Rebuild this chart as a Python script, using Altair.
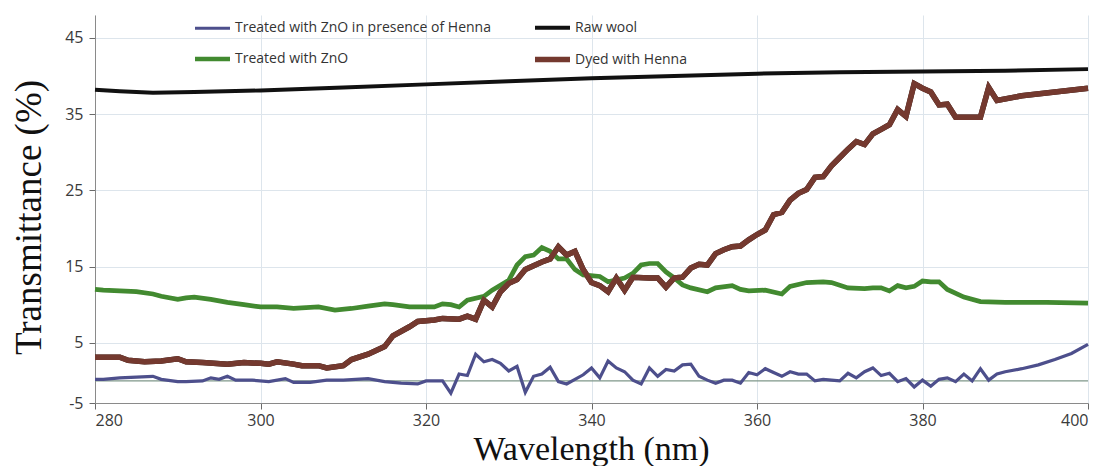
import altair as alt
import pandas as pd

series_order = ["Treated with ZnO in presence of Henna", "Raw wool",
                "Treated with ZnO", "Dyed with Henna"]
series_colors = ["#4d4f8c", "#111111", "#428a30", "#74392f"]
series_widths = [3.2, 5.5, 2.6, 3.2]

blue_nm = [280, 281, 283, 285, 287, 288, 290, 291, 293, 294, 295, 296, 297, 299, 301, 303, 304, 306,
           308, 310, 313, 315, 317, 319, 320, 322, 323, 324, 325, 326, 327, 328, 329, 330, 331, 332,
           333, 334, 335, 336, 337, 338, 339, 340, 341, 342, 343, 344, 345, 346, 347, 348, 349, 350,
           351, 352, 353, 354, 355, 356, 357, 358, 359, 360, 361, 362, 363, 364, 365, 366, 367, 368,
           369, 370, 371, 372, 373, 374, 375, 376, 377, 378, 379, 380, 381, 382, 383, 384, 385, 386,
           387, 388, 389, 390, 392, 394, 396, 398, 400]
blue_val = [0.2, 0.2, 0.4, 0.5, 0.6, 0.2, -0.1, -0.1, 0.0, 0.4, 0.2, 0.6, 0.1, 0.1, -0.1, 0.3, -0.2, -0.2,
            0.1, 0.1, 0.3, -0.1, -0.3, -0.4, 0.0, 0.0, -1.6, 0.9, 0.7, 3.5, 2.5, 2.8, 2.3, 1.3, 1.9, -1.5,
            0.6, 0.9, 1.8, -0.1, -0.4, 0.2, 0.8, 1.7, 0.4, 2.6, 1.7, 1.2, 0.1, -0.4, 1.7, 0.6, 1.5, 1.3,
            2.1, 2.2, 0.6, 0.1, -0.3, 0.1, 0.1, -0.3, 1.1, 0.8, 1.6, 1.1, 0.6, 1.2, 0.9, 0.9, 0.0, 0.2,
            0.1, 0.0, 1.0, 0.4, 1.2, 1.7, 0.7, 1.0, -0.1, 0.3, -0.8, 0.1, -0.7, 0.2, 0.4, -0.1, 0.9, 0.0,
            1.6, 0.1, 0.9, 1.2, 1.6, 2.1, 2.8, 3.6, 4.8]

green_nm = [280, 281, 283, 285, 287, 288, 290, 291, 292, 294, 296, 298, 300, 302, 304, 307, 309, 311,
            313, 315, 316, 318, 321, 322, 323, 324, 325, 327, 328, 330, 331, 332, 333, 334, 335, 336,
            337, 338, 339, 341, 342, 344, 345, 346, 347, 348, 349, 350, 351, 352, 354, 355, 357, 358,
            359, 361, 363, 364, 366, 368, 369, 371, 373, 374, 375, 376, 377, 378, 379, 380, 381, 382,
            383, 385, 387, 390, 395, 400]
green_val = [12.0, 11.9, 11.8, 11.7, 11.4, 11.1, 10.7, 10.9, 11.0, 10.7, 10.3, 10.0, 9.7, 9.7, 9.5, 9.7,
             9.3, 9.5, 9.8, 10.1, 10.0, 9.7, 9.7, 10.1, 10.0, 9.7, 10.6, 11.1, 11.9, 13.2, 15.2, 16.3,
             16.5, 17.5, 17.0, 16.0, 16.0, 14.6, 13.9, 13.7, 13.0, 13.5, 14.1, 15.2, 15.4, 15.4, 14.3,
             13.5, 12.6, 12.2, 11.7, 12.2, 12.5, 12.0, 11.8, 11.9, 11.4, 12.4, 12.9, 13.0, 12.9, 12.2,
             12.1, 12.2, 12.2, 11.8, 12.5, 12.2, 12.4, 13.1, 13.0, 13.0, 12.0, 11.0, 10.4, 10.3, 10.3,
             10.2]

black_nm = [280, 283, 287, 292, 300, 310, 320, 330, 340, 350, 360, 370, 380, 390, 400]
black_val = [38.2, 38.0, 37.8, 37.9, 38.1, 38.5, 38.9, 39.3, 39.7, 40.0, 40.3, 40.5, 40.6, 40.7, 40.9]

brown_nm = [280, 281, 283, 284, 286, 288, 290, 291, 293, 296, 298, 300, 301, 302, 304, 305, 307, 308,
            310, 311, 313, 315, 316, 318, 319, 321, 322, 324, 325, 326, 327, 328, 329, 330, 331, 332,
            333, 334, 335, 336, 337, 338, 339, 340, 341, 342, 343, 344, 345, 347, 348, 349, 350, 351,
            352, 353, 354, 355, 356, 357, 358, 359, 360, 361, 362, 363, 364, 365, 366, 367, 368, 369,
            370, 371, 372, 373, 374, 375, 376, 377, 378, 379, 380, 381, 382, 383, 384, 387, 388, 389,
            392, 396, 400]
brown_val = [3.1, 3.1, 3.1, 2.7, 2.5, 2.6, 2.9, 2.5, 2.4, 2.2, 2.4, 2.3, 2.2, 2.5, 2.2, 2.0, 2.0, 1.7,
             2.0, 2.8, 3.5, 4.5, 5.9, 7.1, 7.8, 8.0, 8.2, 8.1, 8.5, 8.1, 10.6, 9.7, 11.7, 12.8, 13.3,
             14.6, 15.1, 15.6, 16.0, 17.6, 16.5, 17.0, 14.6, 12.9, 12.5, 11.7, 13.5, 11.9, 13.6, 13.5,
             13.5, 12.3, 13.5, 13.6, 14.8, 15.3, 15.2, 16.7, 17.2, 17.6, 17.7, 18.5, 19.2, 19.8, 21.8,
             22.1, 23.7, 24.6, 25.1, 26.7, 26.8, 28.2, 29.3, 30.4, 31.4, 31.0, 32.4, 33.0, 33.6, 35.6,
             34.7, 39.0, 38.4, 37.9, 36.2, 36.3, 34.6, 34.6, 38.5, 36.8, 37.4, 37.9, 38.4]

x_ticks = [280, 300, 320, 340, 360, 380, 400]
y_ticks = [-2.9, 5, 15, 25, 35, 45]

rows = []
for name, xs, ys in [("Treated with ZnO", green_nm, green_val),
                     ("Raw wool", black_nm, black_val),
                     ("Dyed with Henna", brown_nm, brown_val),
                     ("Treated with ZnO in presence of Henna", blue_nm, blue_val)]:
    for x, y in zip(xs, ys):
        rows.append({"series": name, "nm": x, "val": y})
df = pd.DataFrame(rows)
brown_df = df[df.series == "Dyed with Henna"]
zero_df = pd.DataFrame({"val": [0]})

x_scale = alt.Scale(domain=[280, 400], nice=False, zero=False)
y_scale = alt.Scale(domain=[-2.9, 48], nice=False, zero=False)

x_axis = alt.Axis(values=x_ticks, title="Wavelength (nm)", titleX=496, titleY=56,
                  titleBaseline="alphabetic", titleAlign="center", titleFontSize=34)
y_axis = alt.Axis(values=y_ticks, title="Transmittance (%)", titleX=-66, titleY=202,
                  titleAngle=-90, titleBaseline="middle", titleAlign="center", titleFontSize=37,
                  labelExpr="datum.value < 0 ? '-5' : datum.label")

legend = alt.Legend(title=None, orient="none", direction="horizontal", legendX=97, legendY=-7,
                    columns=2, columnPadding=33, rowPadding=3, symbolType="stroke",
                    symbolSize=1225, symbolStrokeWidth=4, labelFont="Open Sans", labelFontSize=14,
                    labelColor="#333333", labelOffset=2, labelLimit=500, padding=0)

zero_line = alt.Chart(zero_df).mark_rule(color="#7f978a", strokeWidth=1.3).encode(
    y=alt.Y("val:Q", scale=y_scale, axis=y_axis)
)

brown_outline = alt.Chart(brown_df).mark_line(color="#2b1a15", strokeWidth=5.5,
                                               strokeJoin="miter").encode(
    x=alt.X("nm:Q", scale=x_scale, axis=x_axis),
    y=alt.Y("val:Q", scale=y_scale, axis=y_axis),
    order="nm:Q",
)

lines = alt.Chart(df).mark_line(strokeJoin="miter").encode(
    x=alt.X("nm:Q", scale=x_scale, axis=x_axis),
    y=alt.Y("val:Q", scale=y_scale, axis=y_axis),
    color=alt.Color("series:N", scale=alt.Scale(domain=series_order, range=series_colors),
                    legend=legend),
    strokeWidth=alt.StrokeWidth("series:N",
                                scale=alt.Scale(domain=series_order, range=series_widths),
                                legend=None),
    order="nm:Q",
)

chart = alt.layer(zero_line, brown_outline, lines).properties(
    width=993, height=388,
    autosize=alt.AutoSizeParams(type="none"),
    padding={"left": 87, "top": 7, "right": 11, "bottom": 63},
).configure_view(stroke=None).configure_axis(
    labelFont="Open Sans", labelFontSize=16, labelColor="#3a3a3a",
    titleFont="Liberation Serif", titleFontWeight="normal", titleColor="#111111",
    domainColor="#8a8a8a", tickColor="#6a6a6a", tickSize=6, gridColor="#dde5ec",
    gridWidth=1,
).configure_axisX(labelPadding=3).configure_axisY(labelPadding=6)

chart.save("out.html", embed_options={"renderer": "svg", "actions": False})
